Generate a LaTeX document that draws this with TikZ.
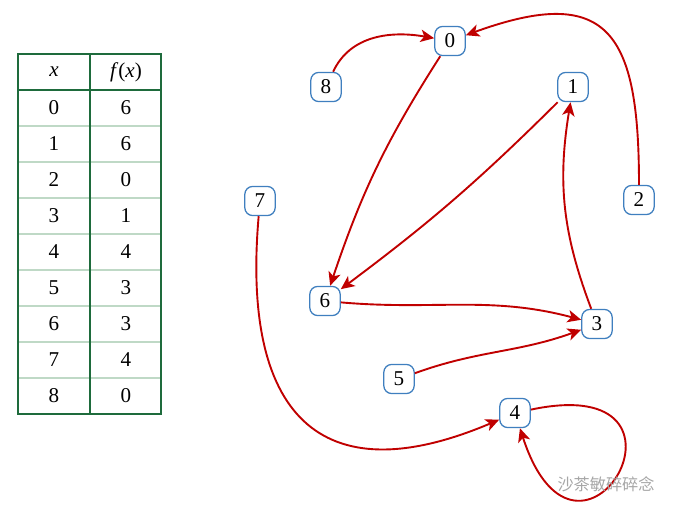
\documentclass[tikz,border=0pt]{standalone}
\usepackage{fontspec}
\setmainfont{Liberation Serif}
\newfontfamily\cjk{Noto Sans CJK SC}
\usetikzlibrary{arrows.meta, positioning}
\definecolor{nodeblue}{HTML}{3F7FBF}
\definecolor{edgered}{HTML}{C00000}
\definecolor{tabgreen}{HTML}{1E6B3C}
\definecolor{rowgreen}{HTML}{BFD9C6}

\begin{document}
\begin{tikzpicture}[>={Stealth[length=3.4mm,width=3.1mm,inset=0.9mm]},semithick,
	every edge/.style={draw=edgered, line width=1.35pt, ->}]
	\tikzset{vert/.style={draw=nodeblue, line width=0.9pt, rounded corners=2mm, minimum width=7.6mm, minimum height=7.3mm, inner sep=0pt, fill=white, font=\fontsize{15}{17}\selectfont}}
	\tikzset{cell/.style={font=\fontsize{15}{17}\selectfont}}
	\useasboundingbox (0,0) rectangle (16.875,-12.825);

	% table of f
	\foreach \k in {1,...,8}
		\draw[rowgreen, line width=1.2pt] (0.45,-2.25-0.9*\k) -- (4.025,-2.25-0.9*\k);
	\draw[tabgreen, line width=1.4pt] (0.45,-1.35) rectangle (4.025,-10.35);
	\draw[tabgreen, line width=1.4pt] (0.45,-2.25) -- (4.025,-2.25);
	\draw[tabgreen, line width=1.4pt] (2.25,-1.35) -- (2.25,-10.35);
	\node[cell] (hx) at (1.35,-1.8) {\textit{x}};
	\node[cell] (hf) at (3.15,-1.8) {\textit{f}(\textit{x})};
	\foreach \x/\y [count=\i from 0] in {0/6,1/6,2/0,3/1,4/4,5/3,6/3,7/4,8/0}{
		\node[cell] (x\i) at (1.35,-2.7-0.9*\i) {\x};
		\node[cell] (f\i) at (3.15,-2.7-0.9*\i) {\y};
	}

	% graph of f
	\node[vert] (0) at (11.25,-1.025) {0};
	\node[vert] (8) at (8.15,-2.175) {8};
	\node[vert] (1) at (14.325,-2.175) {1};
	\node[vert] (7) at (6.5,-5.025) {7};
	\node[vert] (2) at (15.975,-5.0) {2};
	\node[vert] (6) at (8.125,-7.525) {6};
	\node[vert] (3) at (14.925,-8.1) {3};
	\node[vert] (5) at (9.975,-9.475) {5};
	\node[vert] (4) at (12.875,-10.325) {4};
	\path
		(0) edge [bend right = 7] (6)
		(1) edge [bend left = 4] (6)
		(2) edge [out=90, in=20, looseness=1.7] (0)
		(3) edge [bend left = 15] (1)
		(4) edge [out=12, in=-72, min distance=4.8cm] (4)
		(5) edge [out=20, in=200] (3)
		(6) edge [out=-5, in=165] (3)
		(7) edge [out=-95, in=203, looseness=1.6] (4)
		(8) edge [out=65, in=170] (0);

	\node[text=black!35, font=\cjk\fontsize{11.5}{13}\selectfont] (wm) at (15.15,-12.1) {沙茶敏碎碎念};
\end{tikzpicture}
\end{document}
